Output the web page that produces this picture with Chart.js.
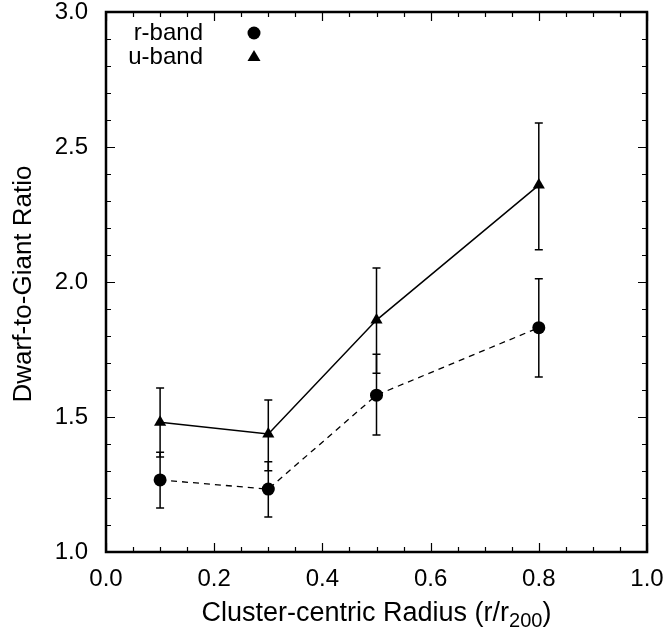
<!DOCTYPE html>
<html>
<head>
<meta charset="utf-8">
<script src="https://cdn.jsdelivr.net/npm/chart.js@4.4.0/dist/chart.umd.min.js"></script>
<style>
  html, body { margin: 0; padding: 0; background: #fff; }
  #wrap { width: 666px; height: 629px; }
</style>
</head>
<body>
<div id="wrap"><canvas id="chart" width="666" height="629"></canvas></div>
<script>
// radius bins (r/r200)
const radius = [0.1, 0.3, 0.5, 0.8];

// r-band dwarf-to-giant ratio and error bar ends
const rBand = [1.267, 1.233, 1.581, 1.831];
const rBandLow = [1.163, 1.130, 1.433, 1.648];
const rBandHigh = [1.369, 1.334, 1.732, 2.012];

// u-band dwarf-to-giant ratio and error bar ends
const uBand = [1.481, 1.437, 1.859, 2.359];
const uBandLow = [1.352, 1.301, 1.662, 2.119];
const uBandHigh = [1.607, 1.563, 2.052, 2.589];

const xTicks = [0, 0.2, 0.4, 0.6, 0.8, 1.0];
const yTicks = [1.0, 1.5, 2.0, 2.5, 3.0];

const FONT = '"Liberation Sans", Arial, Helvetica, sans-serif';

const toPoints = ys => radius.map((x, i) => ({ x: x, y: ys[i] }));

// error bars drawn behind the markers
const errorBars = {
  id: 'errorBars',
  beforeDatasetsDraw(chart) {
    const ctx = chart.ctx;
    const xs = chart.scales.x, ys = chart.scales.y;
    const sets = [[rBandLow, rBandHigh], [uBandLow, uBandHigh]];
    ctx.save();
    ctx.strokeStyle = '#000';
    ctx.lineWidth = 1.5;
    sets.forEach(([lo, hi]) => {
      radius.forEach((r, i) => {
        const px = xs.getPixelForValue(r);
        const y1 = ys.getPixelForValue(lo[i]);
        const y2 = ys.getPixelForValue(hi[i]);
        ctx.beginPath();
        ctx.moveTo(px, y1); ctx.lineTo(px, y2);
        ctx.moveTo(px - 4, y1); ctx.lineTo(px + 4, y1);
        ctx.moveTo(px - 4, y2); ctx.lineTo(px + 4, y2);
        ctx.stroke();
      });
    });
    ctx.restore();
  }
};

// frame with inward ticks on all four sides, legend and axis titles
const frame = {
  id: 'frame',
  afterDraw(chart) {
    const ctx = chart.ctx;
    const a = chart.chartArea;
    const xs = chart.scales.x, ys = chart.scales.y;
    ctx.save();
    ctx.strokeStyle = '#000';
    ctx.lineWidth = 1.2;
    ctx.beginPath();
    for (let v = 0; v <= 20; v++) {
      const px = Math.round(xs.getPixelForValue(v * 0.05)) + 0.5;
      const len = v % 4 === 0 ? 9 : 5;
      ctx.moveTo(px, a.bottom); ctx.lineTo(px, a.bottom - len);
      ctx.moveTo(px, a.top); ctx.lineTo(px, a.top + len);
    }
    for (let v = 0; v <= 20; v++) {
      const py = Math.round(ys.getPixelForValue(1 + v * 0.1)) + 0.5;
      const len = v % 5 === 0 ? 9 : 5;
      ctx.moveTo(a.left, py); ctx.lineTo(a.left + len, py);
      ctx.moveTo(a.right, py); ctx.lineTo(a.right - len, py);
    }
    ctx.stroke();
    ctx.lineWidth = 2.5;
    ctx.strokeRect(a.left, a.top, a.right - a.left, a.bottom - a.top);

    // legend
    ctx.fillStyle = '#000';
    ctx.font = '24px ' + FONT;
    ctx.textAlign = 'right';
    ctx.textBaseline = 'middle';
    ctx.fillText('r-band', 203, 33);
    ctx.fillText('u-band', 203, 57);
    ctx.beginPath();
    ctx.arc(254, 33, 6.5, 0, Math.PI * 2);
    ctx.fill();
    ctx.beginPath();
    ctx.moveTo(254, 50); ctx.lineTo(260.5, 61); ctx.lineTo(247.5, 61);
    ctx.closePath();
    ctx.fill();

    // y title
    ctx.save();
    ctx.translate(31, 284);
    ctx.rotate(-Math.PI / 2);
    ctx.textAlign = 'center';
    ctx.textBaseline = 'alphabetic';
    ctx.font = '26px ' + FONT;
    ctx.fillText('Dwarf-to-Giant Ratio', 0, 0);
    ctx.restore();

    // x title with subscript
    const main = 'Cluster-centric Radius (r/r';
    const sub = '200';
    const tail = ')';
    ctx.textAlign = 'left';
    ctx.textBaseline = 'alphabetic';
    ctx.font = '27px ' + FONT;
    const wMain = ctx.measureText(main).width;
    const wTail = ctx.measureText(tail).width;
    ctx.font = '20px ' + FONT;
    const wSub = ctx.measureText(sub).width;
    let x0 = (a.left + a.right) / 2 - (wMain + wSub + wTail) / 2;
    const base = 621;
    ctx.font = '27px ' + FONT;
    ctx.fillText(main, x0, base);
    ctx.font = '20px ' + FONT;
    ctx.fillText(sub, x0 + wMain, base + 6);
    ctx.font = '27px ' + FONT;
    ctx.fillText(tail, x0 + wMain + wSub, base);
    ctx.restore();
  }
};

new Chart(document.getElementById('chart'), {
  type: 'scatter',
  data: {
    datasets: [
      {
        label: 'r-band',
        data: toPoints(rBand),
        showLine: true,
        borderColor: '#000',
        backgroundColor: '#000',
        borderWidth: 1.3,
        borderDash: [6, 5],
        pointStyle: 'circle',
        pointRadius: 6.5,
        pointBorderWidth: 0,
      },
      {
        label: 'u-band',
        data: toPoints(uBand),
        showLine: true,
        borderColor: '#000',
        backgroundColor: '#000',
        borderWidth: 1.5,
        pointStyle: 'triangle',
        pointRadius: 7,
        pointBorderWidth: 0,
      },
    ],
  },
  options: {
    responsive: false,
    animation: false,
    layout: { padding: { top: 12, right: 19, left: 0, bottom: 0 } },
    plugins: {
      legend: { display: false },
      tooltip: { enabled: false },
    },
    scales: {
      x: {
        type: 'linear',
        min: 0,
        max: 1,
        afterFit: s => { s.height = 77; s.paddingLeft = 0; s.paddingRight = 0; },
        afterBuildTicks: s => { s.ticks = xTicks.map(v => ({ value: v })); },
        grid: { display: false, drawTicks: false },
        border: { display: false },
        ticks: {
          padding: 13,
          color: '#000',
          font: { family: FONT, size: 24 },
          callback: v => v.toFixed(1),
        },
      },
      y: {
        type: 'linear',
        min: 1,
        max: 3,
        afterFit: s => { s.width = 106; s.paddingTop = 0; s.paddingBottom = 0; },
        afterBuildTicks: s => { s.ticks = yTicks.map(v => ({ value: v })); },
        grid: { display: false, drawTicks: false },
        border: { display: false },
        ticks: {
          padding: 18,
          color: '#000',
          font: { family: FONT, size: 24 },
          callback: v => v.toFixed(1),
        },
      },
    },
  },
  plugins: [errorBars, frame],
});
</script>
</body>
</html>
